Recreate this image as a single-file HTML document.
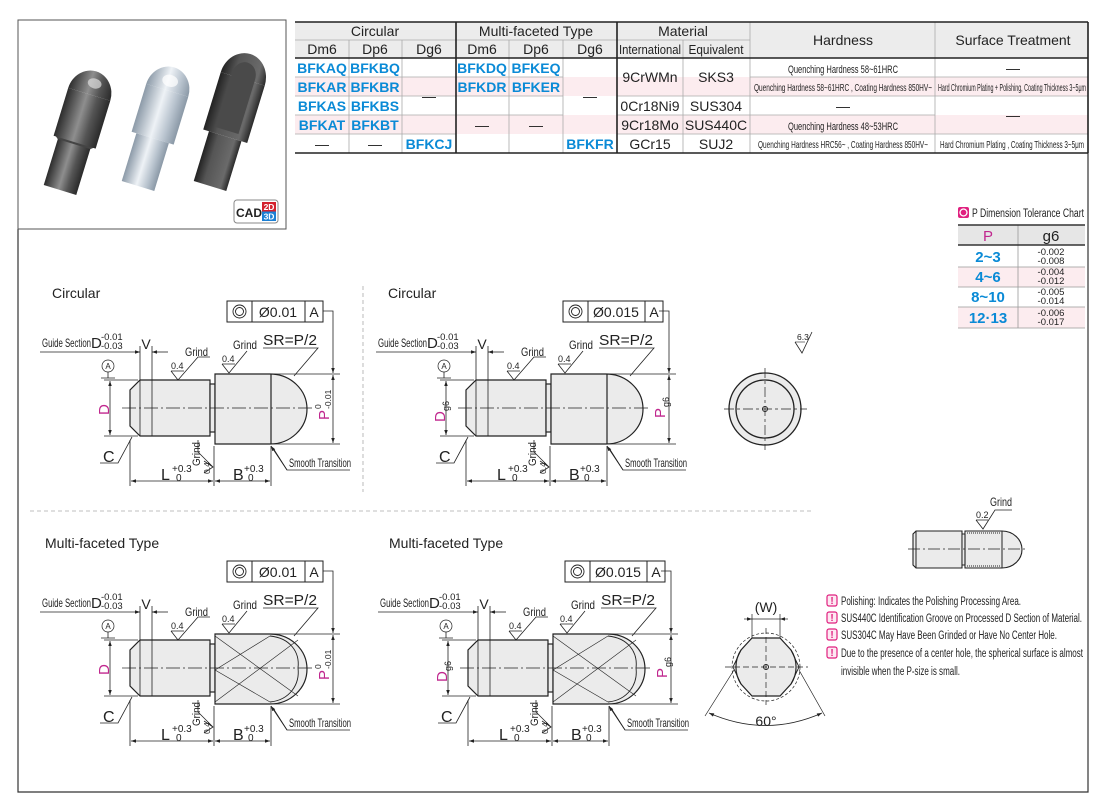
<!DOCTYPE html>
<html><head><meta charset="utf-8"><style>
html,body{margin:0;padding:0;background:#fff}
svg{display:block}
text{font-family:"Liberation Sans",sans-serif;fill:#222}
.n{font-family:"Liberation Sans Narrow","Liberation Sans",sans-serif}
.m{fill:#c0278e}
.b{fill:#0a8ad6;font-weight:bold}
</style></head><body>
<svg width="1110" height="812" viewBox="0 0 1110 812" xmlns="http://www.w3.org/2000/svg">
<defs>
<marker id="ar" viewBox="0 0 10 10" refX="10" refY="5" markerWidth="7" markerHeight="5" orient="auto-start-reverse" markerUnits="userSpaceOnUse"><path d="M0,1.5 L10,5 L0,8.5z" fill="#222"/></marker>
<linearGradient id="gd" x1="0" x2="1"><stop offset="0" stop-color="#2c2c2c"/><stop offset=".45" stop-color="#8e8e8e"/><stop offset=".7" stop-color="#555"/><stop offset="1" stop-color="#2a2a2a"/></linearGradient>
<linearGradient id="gl" x1="0" x2="1"><stop offset="0" stop-color="#8c9aa8"/><stop offset=".45" stop-color="#eef2f6"/><stop offset=".75" stop-color="#b8c3ce"/><stop offset="1" stop-color="#8a98a6"/></linearGradient>
<linearGradient id="gk" x1="0" x2="1"><stop offset="0" stop-color="#222"/><stop offset=".3" stop-color="#555"/><stop offset=".8" stop-color="#6a6a6a"/><stop offset="1" stop-color="#2a2a2a"/></linearGradient>
<g id="common" stroke="#222" stroke-width="0.8" fill="none">
 <path d="M140,380H210V436H140L130,426V390Z" fill="#ebebeb" stroke-width="1.2"/>
 <line x1="140" y1="380" x2="140" y2="436"/>
 <line x1="152" y1="380" x2="152" y2="436"/>
 <rect x="210" y="384" width="5" height="48" fill="#ebebeb" stroke-width="1.2"/>
 <line x1="110" y1="381" x2="110" y2="435" marker-start="url(#ar)" marker-end="url(#ar)"/>
 <path d="M104,380H138 M104,436H138"/>
 <circle cx="108" cy="366" r="6" stroke-width="0.7"/>
 <path d="M108,372V378 M101,378H115"/>
 <path d="M40,352H140" marker-end="url(#ar)"/>
 <path d="M168,352H152" marker-end="url(#ar)"/>
 <path d="M140,346V380 M152,346V380"/>
 <path d="M171,371H184 M171,371L178,380L198,357H210"/>
 <path d="M222,364H235 M222,364L229,373L247,351"/>
 <path d="M263,348H318 L294,376" />
 <path d="M323,311H333V373" marker-end="url(#ar)"/>
 <line x1="333" y1="375" x2="333" y2="443" marker-start="url(#ar)" marker-end="url(#ar)"/>
 <path d="M272,374H340 M272,444H340"/>
 <path d="M100,463H118L132,437"/>
 <path d="M130,440V486 M214,446V486 M271,446V486"/>
 <line x1="131" y1="481" x2="213" y2="481" marker-start="url(#ar)" marker-end="url(#ar)"/>
 <line x1="215" y1="481" x2="270" y2="481" marker-start="url(#ar)" marker-end="url(#ar)"/>
 <path d="M204,461L213,467L204,473 M213,467L198,452V440"/>
 <path d="M350,470H287L273,448"/>
 <path d="M287,470L271,446" marker-end="url(#ar)"/>
</g>
<g id="headC" stroke="#222" fill="none">
 <path d="M215,374H270A37,35 0 0 1 270,444H215Z" fill="#ebebeb" stroke-width="1.2"/>
 <line x1="271" y1="374" x2="271" y2="444" stroke-width="1.2"/>
</g>
<g id="headM" stroke="#222" fill="none">
 <path d="M215,374H270A37,35 0 0 1 270,444H215Z" fill="#ebebeb" stroke-width="1.2"/>
 <path d="M215,376L298,436 M215,442L298,380 M270,376L215,410L270,442" stroke-width="0.6"/>
 <path d="M270,376 C290,378 300,392 298,408 C300,424 290,440 270,442" stroke-width="0.9"/>
</g>
<g id="cl"><line x1="122" y1="408" x2="312" y2="408" stroke="#222" stroke-width="0.7" stroke-dasharray="14 3 2 3"/></g>
<g id="fcf" stroke="#222" fill="none" stroke-width="0.9">
 <circle cx="239.5" cy="311.5" r="6.5"/><circle cx="239.5" cy="311.5" r="4"/>
</g>
<g id="txt">
 <text x="42" y="347" class="n" font-size="12" textLength="49" lengthAdjust="spacingAndGlyphs">Guide Section</text>
 <text x="91" y="348" font-size="15">D</text>
 <text x="101" y="340" font-size="9.5">-0.01</text>
 <text x="101" y="349" font-size="9.5">-0.03</text>
 <text x="146" y="349" font-size="14" text-anchor="middle">V</text>
 <text x="108" y="369" font-size="8" text-anchor="middle">A</text>
 <text x="185" y="356" class="n" font-size="12" textLength="23" lengthAdjust="spacingAndGlyphs">Grind</text>
 <text x="171" y="369" font-size="9">0.4</text>
 <text x="233" y="349" class="n" font-size="12" textLength="24" lengthAdjust="spacingAndGlyphs">Grind</text>
 <text x="222" y="362" font-size="9">0.4</text>
 <text x="263" y="345" font-size="15" textLength="54" lengthAdjust="spacingAndGlyphs">SR=P/2</text>
 <text x="103" y="462" font-size="16">C</text>
 <text x="161" y="480" font-size="16">L</text>
 <text x="172" y="472" font-size="10">+0.3</text>
 <text x="176" y="481" font-size="10">0</text>
 <text x="233" y="480" font-size="16">B</text>
 <text x="244" y="472" font-size="10">+0.3</text>
 <text x="248" y="481" font-size="10">0</text>
 <text transform="translate(200,466) rotate(-90)" class="n" font-size="11" textLength="24" lengthAdjust="spacingAndGlyphs">Grind</text>
 <text transform="translate(210,474) rotate(-90)" font-size="8.5">0.4</text>
 <text x="289" y="467" class="n" font-size="12" textLength="62" lengthAdjust="spacingAndGlyphs">Smooth Transition</text>
</g>
</defs>

<!-- frame -->
<path d="M18,229V792H1088V153" stroke="#333" stroke-width="1.2" fill="none"/>
<rect x="18" y="20" width="268" height="209" fill="#fff" stroke="#555" stroke-width="1"/>

<!-- photo pins -->
<g transform="translate(60,190) rotate(17)">
 <rect x="-17" y="-50" width="34" height="50" fill="url(#gd)"/>
 <path d="M-22,-52 L-17,-48 H17 L22,-52 Z" fill="#444"/>
 <rect x="-22" y="-100" width="44" height="50" fill="url(#gd)"/>
 <path d="M-22,-100 A22,24 0 0 1 22,-100Z" fill="url(#gd)"/>
 <ellipse cx="2" cy="-112" rx="7" ry="5" fill="#ddd" opacity=".7"/>
</g>
<g transform="translate(138,186) rotate(17)">
 <rect x="-17" y="-50" width="34" height="50" fill="url(#gl)"/>
 <rect x="-22" y="-100" width="44" height="50" fill="url(#gl)"/>
 <path d="M-22,-100 A22,24 0 0 1 22,-100Z" fill="url(#gl)"/>
 <ellipse cx="0" cy="-110" rx="8" ry="6" fill="#fff" opacity=".7"/>
</g>
<g transform="translate(210,186) rotate(17)">
 <rect x="-17" y="-52" width="34" height="52" fill="url(#gk)"/>
 <rect x="-23" y="-112" width="46" height="60" fill="url(#gk)"/>
 <path d="M-23,-112 A23,26 0 0 1 23,-112Z" fill="url(#gk)"/>
 <path d="M-12,-58 V-115 A12,14 0 0 1 12,-115 V-58Z" fill="#4a4a4a"/>
</g>
<rect x="234" y="200" width="44" height="23" rx="3" fill="#fff" stroke="#888"/>
<text x="236" y="217" font-size="12" font-weight="bold" fill="#222">CAD</text>
<rect x="262" y="202" width="14" height="9.5" fill="#d3212d"/>
<rect x="262" y="211.5" width="14" height="9.5" fill="#1a7fd4"/>
<text x="269" y="210" font-size="8.5" font-weight="bold" text-anchor="middle" style="fill:#fff">2D</text>
<text x="269" y="219.5" font-size="8.5" font-weight="bold" text-anchor="middle" style="fill:#fff">3D</text>

<!-- main table -->
<g>
 <rect x="295" y="22" width="793" height="36" fill="#ececec"/>
 <rect x="295" y="77" width="793" height="19" fill="#fcecef"/>
 <rect x="295" y="115" width="793" height="19" fill="#fcecef"/>
 <g stroke="#aaa" stroke-width="0.8">
  <path d="M295,40H750 M295,77H456 M295,96H456 M295,115H456 M295,134H456"/>
  <path d="M456,77H563 M456,96H563 M456,115H563 M617,96H750 M617,115H750 M617,134H750 M750,77H1088 M750,96H1088 M750,115H935 M750,134H1088"/>
  <path d="M349,40V153 M402,40V153 M509,40V153 M563,40V153 M683,40V153 M750,22V153 M935,22V153"/>
 </g>
 <g stroke="#222" stroke-width="1.6">
  <path d="M295,22H1088 M295,58H1088 M295,153H1088 M456,22V153 M617,22V153 M1088,22V153"/>
 </g>
 <g font-size="14" text-anchor="middle">
  <text x="375" y="36">Circular</text>
  <text x="536" y="36">Multi-faceted Type</text>
  <text x="683" y="36">Material</text>
  <text x="843" y="45">Hardness</text>
  <text x="1013" y="45">Surface Treatment</text>
  <text x="322" y="54">Dm6</text><text x="375" y="54">Dp6</text><text x="429" y="54">Dg6</text>
  <text x="482" y="54">Dm6</text><text x="536" y="54">Dp6</text><text x="590" y="54">Dg6</text>
 </g>
 <text x="650" y="54" class="n" font-size="13" text-anchor="middle" textLength="62" lengthAdjust="spacingAndGlyphs">International</text>
 <text x="716" y="54" class="n" font-size="13" text-anchor="middle" textLength="55" lengthAdjust="spacingAndGlyphs">Equivalent</text>
 <g font-size="14" text-anchor="middle">
  <text class="b" x="322" y="73">BFKAQ</text><text class="b" x="375" y="73">BFKBQ</text>
  <text class="b" x="322" y="92">BFKAR</text><text class="b" x="375" y="92">BFKBR</text>
  <text class="b" x="322" y="111">BFKAS</text><text class="b" x="375" y="111">BFKBS</text>
  <text class="b" x="322" y="130">BFKAT</text><text class="b" x="375" y="130">BFKBT</text>
  <text x="322" y="149">—</text><text x="375" y="149">—</text><text class="b" x="429" y="149">BFKCJ</text>
  <text x="429" y="101">—</text>
  <text class="b" x="482" y="73">BFKDQ</text><text class="b" x="536" y="73">BFKEQ</text>
  <text class="b" x="482" y="92">BFKDR</text><text class="b" x="536" y="92">BFKER</text>
  <text x="482" y="130">—</text><text x="536" y="130">—</text>
  <text x="590" y="101">—</text>
  <text class="b" x="590" y="149">BFKFR</text>
  <text x="650" y="82">9CrWMn</text><text x="716" y="82">SKS3</text>
  <text x="650" y="111">0Cr18Ni9</text><text x="716" y="111">SUS304</text>
  <text x="650" y="130">9Cr18Mo</text><text x="716" y="130">SUS440C</text>
  <text x="650" y="149">GCr15</text><text x="716" y="149">SUJ2</text>
  <text x="843" y="111">—</text>
  <text x="1013" y="73">—</text>
  <text x="1013" y="120">—</text>
 </g>
 <g class="n" text-anchor="middle">
  <text class="n" x="843" y="73" font-size="11" textLength="110" lengthAdjust="spacingAndGlyphs">Quenching Hardness 58~61HRC</text>
  <text class="n" x="843" y="91" font-size="10" textLength="178" lengthAdjust="spacingAndGlyphs">Quenching Hardness 58~61HRC , Coating Hardness 850HV~</text>
  <text class="n" x="1012" y="91" font-size="10" textLength="148" lengthAdjust="spacingAndGlyphs">Hard Chromium Plating + Polishing, Coating Thickness 3~5μm</text>
  <text class="n" x="843" y="130" font-size="11" textLength="110" lengthAdjust="spacingAndGlyphs">Quenching Hardness 48~53HRC</text>
  <text class="n" x="843" y="148" font-size="10" textLength="170" lengthAdjust="spacingAndGlyphs">Quenching Hardness HRC56~ , Coating Hardness 850HV~</text>
  <text class="n" x="1012" y="148" font-size="10" textLength="144" lengthAdjust="spacingAndGlyphs">Hard Chromium Plating , Coating Thickness 3~5μm</text>
 </g>
</g>

<!-- tolerance chart -->
<rect x="958" y="207" width="11" height="11" rx="2" fill="#e0207f"/>
<circle cx="963.5" cy="212.5" r="3.5" fill="#e0207f" stroke="#fff" stroke-width="1.3"/>
<text x="972" y="217" class="n" font-size="11.5" textLength="112" lengthAdjust="spacingAndGlyphs">P Dimension Tolerance Chart</text>
<rect x="958" y="225" width="127" height="20" fill="#e6e6e6"/>
<rect x="958" y="267" width="127" height="20" fill="#fcecef"/>
<rect x="958" y="307" width="127" height="21" fill="#fcecef"/>
<g stroke="#999" stroke-width="0.8"><path d="M958,267H1085 M958,287H1085 M958,307H1085 M958,328H1085 M1018,225V328"/></g>
<g stroke="#333" stroke-width="1.4"><path d="M958,225H1085 M958,245H1085"/></g>
<text x="988" y="241" font-size="15" text-anchor="middle" class="m">P</text>
<text x="1051" y="241" font-size="15" text-anchor="middle">g6</text>
<g font-size="15" text-anchor="middle">
 <text class="b" x="988" y="262">2~3</text>
 <text class="b" x="988" y="282">4~6</text>
 <text class="b" x="988" y="302">8~10</text>
 <text class="b" x="988" y="323">12·13</text>
</g>
<g font-size="9.5" text-anchor="middle">
 <text x="1051" y="255">-0.002</text><text x="1051" y="264">-0.008</text>
 <text x="1051" y="275">-0.004</text><text x="1051" y="284">-0.012</text>
 <text x="1051" y="295">-0.005</text><text x="1051" y="304">-0.014</text>
 <text x="1051" y="316">-0.006</text><text x="1051" y="325">-0.017</text>
</g>

<!-- separators -->
<line x1="363" y1="286" x2="363" y2="492" stroke="#aaa" stroke-width="0.8" stroke-dasharray="4 3"/>
<line x1="30" y1="511" x2="812" y2="511" stroke="#aaa" stroke-width="0.8" stroke-dasharray="4 3"/>

<!-- titles -->
<text x="52" y="298" font-size="14">Circular</text>
<text x="388" y="298" font-size="14">Circular</text>
<text x="45" y="548" font-size="14">Multi-faceted Type</text>
<text x="389" y="548" font-size="14">Multi-faceted Type</text>

<!-- drawing 1 -->
<g>
 <use href="#common"/><use href="#headC"/><use href="#cl"/>
 <rect x="227" y="301" width="96" height="21" fill="none" stroke="#222"/>
 <path d="M252,301V322 M305,301V322" stroke="#222"/>
 <use href="#fcf"/>
 <text x="278" y="317" font-size="14" text-anchor="middle">Ø0.01</text>
 <text x="314" y="317" font-size="14" text-anchor="middle">A</text>
 <use href="#txt"/>
 <text transform="translate(109,415) rotate(-90)" font-size="15" class="m">D</text>
 <g transform="translate(329,420) rotate(-90)"><text font-size="15" class="m">P</text><text x="11" y="-8" font-size="8.5">0</text><text x="11" y="2" font-size="8.5">-0.01</text></g>
</g>
<!-- drawing 2 -->
<g transform="translate(336,0)">
 <use href="#common"/><use href="#headC"/><use href="#cl"/>
 <rect x="227" y="301" width="100" height="21" fill="none" stroke="#222"/>
 <path d="M252,301V322 M309,301V322" stroke="#222"/>
 <use href="#fcf"/>
 <text x="280" y="317" font-size="14" text-anchor="middle">Ø0.015</text>
 <text x="318" y="317" font-size="14" text-anchor="middle">A</text>
 <use href="#txt"/>
 <g transform="translate(109,422) rotate(-90)"><text font-size="15" class="m">D</text><text x="11" y="4" font-size="9">g6</text></g>
 <g transform="translate(329,418) rotate(-90)"><text font-size="15" class="m">P</text><text x="11" y="4" font-size="9">g6</text></g>
</g>
<!-- drawing 3 -->
<g transform="translate(0,260)">
 <use href="#common"/><use href="#headM"/><use href="#cl"/>
 <rect x="227" y="301" width="96" height="21" fill="none" stroke="#222"/>
 <path d="M252,301V322 M305,301V322" stroke="#222"/>
 <use href="#fcf"/>
 <text x="278" y="317" font-size="14" text-anchor="middle">Ø0.01</text>
 <text x="314" y="317" font-size="14" text-anchor="middle">A</text>
 <use href="#txt"/>
 <text transform="translate(109,415) rotate(-90)" font-size="15" class="m">D</text>
 <g transform="translate(329,420) rotate(-90)"><text font-size="15" class="m">P</text><text x="11" y="-8" font-size="8.5">0</text><text x="11" y="2" font-size="8.5">-0.01</text></g>
</g>
<!-- drawing 4 -->
<g transform="translate(338,260)">
 <use href="#common"/><use href="#headM"/><use href="#cl"/>
 <rect x="227" y="301" width="100" height="21" fill="none" stroke="#222"/>
 <path d="M252,301V322 M309,301V322" stroke="#222"/>
 <use href="#fcf"/>
 <text x="280" y="317" font-size="14" text-anchor="middle">Ø0.015</text>
 <text x="318" y="317" font-size="14" text-anchor="middle">A</text>
 <use href="#txt"/>
 <g transform="translate(109,422) rotate(-90)"><text font-size="15" class="m">D</text><text x="11" y="4" font-size="9">g6</text></g>
 <g transform="translate(329,418) rotate(-90)"><text font-size="15" class="m">P</text><text x="11" y="4" font-size="9">g6</text></g>
</g>

<!-- end view circular -->
<g stroke="#222" fill="none">
 <path d="M795,342L802,353L812,332" stroke-width="0.8"/>
 <path d="M795,342H805" stroke-width="0.6"/>
 <circle cx="765" cy="409" r="36" fill="#ebebeb" stroke-width="1.3"/>
 <circle cx="765" cy="409" r="29" stroke-width="1.3"/>
 <circle cx="765" cy="409" r="2.5" stroke-width="1"/>
 <path d="M724,409H807 M765,368V450" stroke-width="0.7" stroke-dasharray="10 3 3 3"/>
</g>
<text x="797" y="340" font-size="8.5">6.3</text>

<!-- end view hex -->
<g stroke="#222" fill="none">
 <circle cx="766" cy="667" r="34" stroke-width="0.7" stroke-dasharray="3 2"/>
 <path d="M752,638H780L791,650A31,31 0 0 1 791,684L780,696H752L741,684A31,31 0 0 1 741,650Z" fill="#ebebeb" stroke-width="1.2"/>
 <path d="M741,650L733,667L741,684 M791,650L799,667L791,684" stroke-width="0.9"/>
 <circle cx="766" cy="667" r="2.5" stroke-width="1"/>
 <path d="M725,667H808 M766,628V705" stroke-width="0.7" stroke-dasharray="6 3"/>
 <path d="M752,614V638 M780,614V638" stroke-width="0.7"/>
 <line x1="744" y1="619" x2="752" y2="619" stroke-width="0.7" marker-end="url(#ar)"/>
 <line x1="788" y1="619" x2="780" y2="619" stroke-width="0.7" marker-end="url(#ar)"/>
 <path d="M752,619H780" stroke-width="0.7"/>
 <path d="M734,670L705,716 M799,670L825,716" stroke-width="0.7"/>
 <path d="M709,713Q766,738 822,713" stroke-width="0.8" marker-start="url(#ar)" marker-end="url(#ar)"/>
</g>
<text x="766" y="612" font-size="14" text-anchor="middle">(W)</text>
<text x="766" y="726" font-size="14" text-anchor="middle">60°</text>

<!-- small pin -->
<g stroke="#222" fill="none">
 <path d="M916,531H962V568H916L913,565V534Z" fill="#ebebeb" stroke-width="1.1"/>
 <line x1="916" y1="531" x2="916" y2="568"/>
 <rect x="962" y="534" width="3" height="31" fill="#ebebeb"/>
 <path d="M965,531H1002A20,18.5 0 0 1 1002,568H965Z" fill="#ebebeb" stroke-width="1.1"/>
 <line x1="1002" y1="531" x2="1002" y2="568"/>
 <path d="M965,533H1003 M965,566H1003" stroke="#888" stroke-width="2" stroke-dasharray="1 1"/>
 <path d="M908,549H1026" stroke-width="0.7" stroke-dasharray="12 3 2 3"/>
 <path d="M976,520H988 M976,520L983,529L995,510H1012" stroke-width="0.8"/>
</g>
<text x="990" y="506" class="n" font-size="12" textLength="22" lengthAdjust="spacingAndGlyphs">Grind</text>
<text x="976" y="518" font-size="9">0.2</text>

<!-- notes -->
<g>
 <g class="n" font-size="11.5">
  <text x="841" y="605" textLength="180" lengthAdjust="spacingAndGlyphs">Polishing: Indicates the Polishing Processing Area.</text>
  <text x="841" y="622" textLength="241" lengthAdjust="spacingAndGlyphs">SUS440C Identification Groove on Processed D Section of Material.</text>
  <text x="841" y="639" textLength="216" lengthAdjust="spacingAndGlyphs">SUS304C May Have Been Grinded or Have No Center Hole.</text>
  <text x="841" y="657" textLength="242" lengthAdjust="spacingAndGlyphs">Due to the presence of a center hole, the spherical surface is almost</text>
  <text x="841" y="675" textLength="119" lengthAdjust="spacingAndGlyphs">invisible when the P-size is small.</text>
 </g>
 <g stroke="#e0207f" stroke-width="1.2" fill="#fde8f2">
  <rect x="827" y="595" width="10" height="11" rx="2"/>
  <rect x="827" y="612" width="10" height="11" rx="2"/>
  <rect x="827" y="629" width="10" height="11" rx="2"/>
  <rect x="827" y="647" width="10" height="11" rx="2"/>
 </g>
 <g font-size="10" font-weight="bold" text-anchor="middle" style="fill:#e0207f">
  <text x="832" y="604" style="fill:#e0207f">!</text>
  <text x="832" y="621" style="fill:#e0207f">!</text>
  <text x="832" y="638" style="fill:#e0207f">!</text>
  <text x="832" y="656" style="fill:#e0207f">!</text>
 </g>
</g>
</svg>
</body></html>
